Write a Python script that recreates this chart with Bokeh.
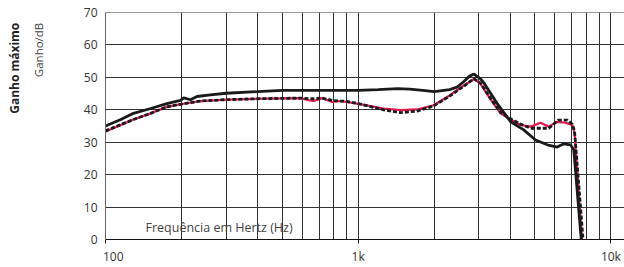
from bokeh.plotting import figure
from bokeh.layouts import row
from bokeh.models import Range1d, FixedTicker, Label, Span
from bokeh.core.properties import value
from bokeh.embed import file_html
from bokeh.resources import INLINE
import math

# ---- data ----
black_f = [100, 115, 129, 151, 175, 198, 204, 217, 230, 260, 300, 400, 500, 700, 1000,
           1200, 1430, 1600, 1800, 2000, 2300, 2460, 2600, 2750, 2870, 3050, 3130, 3550,
           4010, 4520, 5030, 5600, 6130, 6510, 6920, 7130, 7630]
black_db = [35.0, 37.0, 38.9, 40.4, 41.9, 42.9, 43.7, 43.1, 44.1, 44.6, 45.1, 45.6, 46.0, 46.0, 46.0,
            46.2, 46.5, 46.4, 46.0, 45.6, 46.2, 47.0, 48.5, 50.3, 51.0, 49.5, 48.5, 41.9,
            36.3, 33.8, 30.7, 29.2, 28.5, 29.5, 29.2, 27.7, 0.0]

red_f = [100, 129, 151, 175, 198, 238, 296, 396, 500, 590, 630, 668, 720, 790, 850, 990,
         1260, 1470, 1710, 1990, 2300, 2620, 2870, 3050, 3340, 3660, 4010, 4390, 4810,
         5270, 5680, 6130, 6610, 7030, 7180, 7690]
red_db = [33.3, 37.0, 38.9, 40.9, 41.7, 42.7, 43.1, 43.4, 43.5, 43.6, 43.0, 42.7, 43.6, 42.4, 42.7, 41.9,
          40.4, 39.9, 40.1, 41.4, 44.4, 47.5, 49.5, 48.0, 43.2, 38.9, 37.0, 35.3, 34.8,
          36.0, 34.8, 36.3, 36.0, 35.3, 32.9, 0.0]

dash_f = [100, 129, 151, 175, 198, 238, 296, 396, 590, 660, 720, 800, 900, 1000, 1260, 1470,
          1710, 1990, 2300, 2620, 2870, 3050, 3340, 3660, 4010, 4390, 4810, 5270, 5680,
          6190, 6730, 7030, 7180, 7760]
dash_db = [33.5, 37.0, 38.9, 40.9, 41.7, 42.7, 43.1, 43.4, 43.6, 43.4, 43.6, 42.8, 42.6, 41.9, 40.0, 39.1,
           39.6, 41.2, 44.2, 47.3, 49.6, 48.2, 43.5, 39.2, 37.2, 35.6, 34.3, 34.3, 34.3,
           36.8, 36.8, 35.6, 33.5, 0.0]

x_major = [100, 1000, 10000]
x_minor = [200, 300, 400, 500, 600, 700, 800, 900, 2000, 3000, 4000, 5000, 6000, 7000, 8000, 9000]
x_labels = ["\u00a0\u00a0\u00a0\u00a0\u00a0100", "1k", "10k"]
y_ticks = [0, 10, 20, 30, 40, 50, 60, 70]

title_bold = "Ganho máximo"
title_unit = "Ganho/dB"
x_title = "Frequência em Hertz (Hz)"

FONT = "Open Sans"
TXT = "#333333"
GRID = "#333333"

# ---- side panel with the rotated titles (pixel coordinates) ----
SIDE_W, H = 75, 267
side = figure(width=SIDE_W, height=H, x_range=Range1d(0, SIDE_W), y_range=Range1d(0, H),
              x_axis_location=None, y_axis_location=None,
              output_backend="svg", toolbar_location=None,
              min_border_left=0, min_border_right=0, min_border_top=0, min_border_bottom=0)
side.grid.visible = False
side.outline_line_color = None
side.background_fill_color = "white"
side.border_fill_color = "white"
side.text(x=[14], y=[H - 12], text=[title_bold], angle=math.pi / 2,
          text_align="right", text_baseline="alphabetic",
          text_font=value(FONT), text_font_style="bold", text_font_size="12px",
          text_color="#222222")
side.text(x=[38], y=[H - 12], text=[title_unit], angle=math.pi / 2,
          text_align="right", text_baseline="alphabetic",
          text_font=value(FONT), text_font_style="normal", text_font_size="11.5px",
          text_color="#444444")

# ---- main plot ----
p = figure(width=624 - SIDE_W, height=H, x_axis_type="log",
           x_range=Range1d(100, 11320), y_range=Range1d(0, 70),
           output_backend="svg", toolbar_location=None,
           min_border_left=105 - SIDE_W, min_border_right=0, min_border_top=12, min_border_bottom=26)
p.outline_line_color = None
p.background_fill_color = "white"
p.border_fill_color = "white"

# x axis
xa = p.xaxis[0]
xa.ticker = FixedTicker(ticks=x_major, minor_ticks=x_minor)
xa.major_label_overrides = {t: l for t, l in zip(x_major, x_labels)}
xa.axis_line_color = "#111111"
xa.major_tick_line_color = "#111111"
xa.major_tick_out = 4
xa.major_tick_in = 0
xa.minor_tick_line_color = None
xa.minor_tick_out = 0
xa.minor_tick_in = 0
xa.major_label_standoff = 4
xa.major_label_text_font = FONT
xa.major_label_text_font_size = "12px"
xa.major_label_text_color = TXT

# y axis
ya = p.yaxis[0]
ya.ticker = FixedTicker(ticks=y_ticks)
ya.axis_line_color = "#666666"
ya.major_tick_line_color = None
ya.minor_tick_line_color = None
ya.major_tick_out = 0
ya.major_tick_in = 0
ya.minor_tick_out = 0
ya.minor_tick_in = 0
ya.major_label_standoff = 8
ya.major_label_text_font = FONT
ya.major_label_text_font_size = "12px"
ya.major_label_text_color = TXT

# grids
p.xgrid.ticker = FixedTicker(ticks=x_major, minor_ticks=x_minor)
p.xgrid.grid_line_color = GRID
p.xgrid.minor_grid_line_color = GRID
p.ygrid.ticker = FixedTicker(ticks=y_ticks)
p.ygrid.grid_line_color = GRID
p.add_layout(Span(location=70, dimension="width", line_color=GRID, line_width=1))

# curves
p.line(red_f, red_db, line_color="#e3174c", line_width=2.2)
p.line(dash_f, dash_db, line_color="#1a1a1a", line_width=2.8, line_dash="4 2")
p.line(black_f, black_db, line_color="#1a1a1a", line_width=2.8)

# in-plot x title
p.add_layout(Label(x=100, y=0, text=x_title, x_offset=40, y_offset=12,
                   text_align="left", text_baseline="alphabetic",
                   text_font=FONT, text_font_size="12.5px", text_color="#444444"))

layout = row(side, p, spacing=0)
open("out.html", "w").write(file_html(layout, INLINE))
